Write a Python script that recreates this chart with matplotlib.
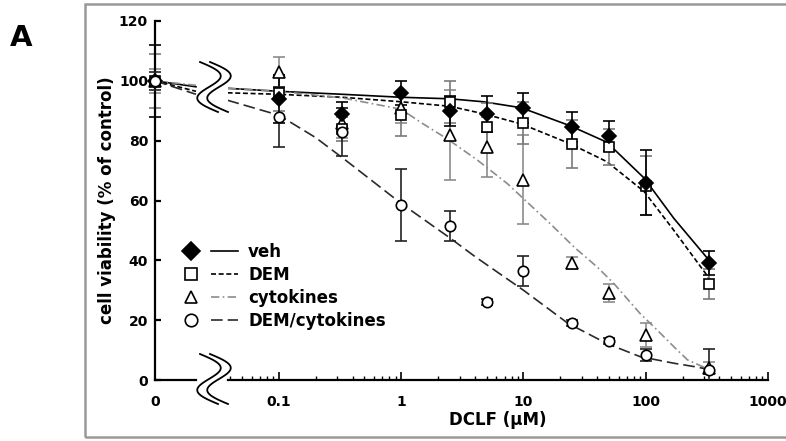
import numpy as np
import matplotlib
matplotlib.use("Agg")
import matplotlib.pyplot as plt
from matplotlib.lines import Line2D
from matplotlib.patches import Rectangle
from matplotlib.legend_handler import HandlerTuple
from matplotlib.ticker import LogLocator, NullFormatter

plt.rcParams['font.family'] = ['DejaVu Sans']
plt.rcParams['font.weight'] = 'bold'
plt.rcParams['axes.labelweight'] = 'bold'

W, H = 786, 441

# DCLF concentrations (uM), control (0) is drawn on the left segment
conc = [0.1, 0.33, 1, 2.5, 5, 10, 25, 50, 100, 330]

# mean cell viability (% of control) and error
veh = [94, 89, 96, 90, 89, 91, 84.5, 81.5, 66, 39]
veh_err = [8, 4, 4, 5, 6, 5, 5, 5, 11, 4]
dem = [96, 84, 88.5, 93, 84.5, 86, 79, 78, 65, 32]
dem_err = [6, 4, 7, 7, 8, 7, 8, 6, 10, 5]
cyt = [103, 86, 91, 82, 78, 67, 39, 29, 15, 4]
cyt_err = [5, 5, 5, 15, 10, 15, 2, 3, 4, 2]
demcyt = [88, 83, 58.5, 51.5, 26, 36.5, 19, 13, 8.5, 3.5]
demcyt_err = [10, 8, 12, 5, 1, 5, 1, 1, 2, 7]

# control values (DCLF = 0)
ctrl = [100, 100, 100, 100]
ctrl_err = [12, 9, 4, 3]

# fitted curves
veh_fit_x = [0.038, 0.1, 0.33, 1, 2.5, 4.7, 9.6, 24, 48, 97, 170, 330]
veh_fit = [97.5, 96.5, 95.5, 94.5, 94, 93, 91, 85, 79.5, 67.5, 54, 40]
dem_fit_x = [0.038, 0.1, 0.33, 1, 2.5, 4.7, 9.6, 24, 48, 97, 170, 330]
dem_fit = [96, 95.5, 94.5, 93, 91.5, 89, 85.6, 79, 73, 63, 50, 34]
cyt_fit_x = [0.038, 0.1, 0.33, 1, 1.46, 2.4, 4.2, 7.4, 16.6, 26, 40, 55, 90, 124, 170, 220, 330]
cyt_fit = [97.5, 96.5, 94.3, 90.5, 86, 80.5, 73.5, 65.6, 52.2, 44.4, 37.8, 32.2, 22.2, 16.7, 11.1, 6.7, 3.5]
demcyt_fit_x = [0.038, 0.1, 0.2, 0.35, 1, 2.5, 4, 10, 23, 48, 90, 170, 256, 330]
demcyt_fit = [93.5, 88.5, 81, 73.5, 59, 47.5, 41.3, 30, 19, 12.2, 7.8, 5.6, 4.4, 3.5]
# curve values where the left (control) segment meets the break
seg_end = [98, 96.5, 98.5, 95.5]

labels = ['veh', 'DEM', 'cytokines', 'DEM/cytokines']
markers = ['D', 's', '^', 'o']
mfaces = ['black', 'white', 'white', 'white']
msizes = [7, 7.5, 8, 7.5]
lcolors = ['black', 'black', '#8c8c8c', '#2a2a2a']
dashes = [None, (3, 1.6), (5, 2, 1, 2), (7, 3)]
ecolors = ['black', '#7a7a7a', '#8c8c8c', '#222222']

fig = plt.figure(figsize=(W / 100, H / 100), dpi=100)

bottom = (H - 380) / H
height = (380 - 21) / H
ax0 = fig.add_axes([155 / W, bottom, 41 / W, height])
ax = fig.add_axes([228 / W, bottom, 540 / W, height])

series = [(veh, veh_err, veh_fit_x, veh_fit),
          (dem, dem_err, dem_fit_x, dem_fit),
          (cyt, cyt_err, cyt_fit_x, cyt_fit),
          (demcyt, demcyt_err, demcyt_fit_x, demcyt_fit)]

handles = []
for i, (y, e, fx, fy) in enumerate(series):
    ls_kw = dict(color=lcolors[i], lw=1.2)
    if dashes[i] is not None:
        ls_kw['dashes'] = dashes[i]
    ax.plot(fx, fy, zorder=2, **ls_kw)
    ax0.plot([0, 1], [ctrl[i], seg_end[i]], zorder=2, clip_on=False, **ls_kw)
    order = [3, 2, 1, 4][i]
    ax.errorbar(conc, y, yerr=e, fmt='none', ecolor=ecolors[i], elinewidth=1.2,
                capsize=4, capthick=1.2, zorder=order)
    ax.plot(conc, y, linestyle='none', marker=markers[i], ms=msizes[i],
            mfc=mfaces[i], mec='black', mew=1.2, zorder=order + 4)
    ax0.errorbar([0], [ctrl[i]], yerr=[ctrl_err[i]], fmt='none', ecolor=ecolors[i],
                 elinewidth=1.2, capsize=4, capthick=1.2, clip_on=False, zorder=order)
    ax0.plot([0], [ctrl[i]], linestyle='none', marker=markers[i], ms=msizes[i],
             mfc=mfaces[i], mec='black', mew=1.2, clip_on=False, zorder=order + 4)
    mh = Line2D([], [], linestyle='none', marker=markers[i], ms=9,
                mfc=mfaces[i], mec='black', mew=1.2)
    lh = Line2D([], [], **ls_kw)
    handles.append((mh, lh))

# log axis
ax.set_xscale('log')
ax.set_xlim(0.0383, 1000)
ax.set_ylim(0, 120)
ax.xaxis.set_minor_locator(LogLocator(base=10, subs=np.arange(2, 10), numticks=20))
ax.xaxis.set_minor_formatter(NullFormatter())
ax.set_xticks([0.1, 1, 10, 100, 1000])
ax.set_xticklabels(['0.1', '1', '10', '100', '1000'])
ax.tick_params(axis='x', which='major', direction='in', length=6, width=1.2, labelsize=10, pad=11)
ax.tick_params(axis='x', which='minor', direction='in', length=3, width=1)
ax.set_yticks([])
for s in ['top', 'right', 'left']:
    ax.spines[s].set_visible(False)
ax.spines['bottom'].set_linewidth(1.6)
ax.patch.set_alpha(0)

# control segment
ax0.set_xlim(0, 1)
ax0.set_ylim(0, 120)
ax0.set_xticks([0])
ax0.set_xticklabels(['0'])
ax0.set_yticks([0, 20, 40, 60, 80, 100, 120])
ax0.tick_params(axis='x', length=0, labelsize=10, pad=11)
ax0.tick_params(axis='y', direction='in', length=4, width=1.6, labelsize=10, pad=5)
for s in ['top', 'right']:
    ax0.spines[s].set_visible(False)
ax0.spines['bottom'].set_linewidth(1.6)
ax0.spines['left'].set_linewidth(1.6)
ax0.patch.set_alpha(0)

ax.set_xlabel('DCLF (\u00b5M)', fontsize=12, fontweight='bold', labelpad=1)
ax0.set_ylabel('cell viability (% of control)', fontsize=12, fontweight='bold', labelpad=2)

# axis-break squiggles
t = np.linspace(0, 1, 80)
dx = 18 * t + 16 * np.sin(2 * np.pi * t)
for yc in (87, 379):
    ys = yc - 25 + 50 * t
    for off in (0, 10):
        fig.add_artist(Line2D((200 + off + dx) / W, 1 - ys / H,
                              transform=fig.transFigure, color='black', lw=1.3))

# outer frame and panel letter
fig.add_artist(Rectangle((85 / W, 4 / H), 1.0, (437 - 4) / H, transform=fig.transFigure,
                         fill=False, edgecolor='#999999', lw=1.8))
fig.text(10 / W, 1 - 46 / H, 'A', fontsize=21, fontweight='bold', ha='left', va='baseline')

fig.legend(handles, labels, handler_map={tuple: HandlerTuple(ndivide=None, pad=0.4)},
           loc='upper left', bbox_to_anchor=(178 / W, 1 - 243 / H), frameon=False,
           fontsize=12, handlelength=3.6, handletextpad=0.6, labelspacing=0.3,
           borderpad=0, borderaxespad=0)

fig.savefig('out.png', dpi=100)
